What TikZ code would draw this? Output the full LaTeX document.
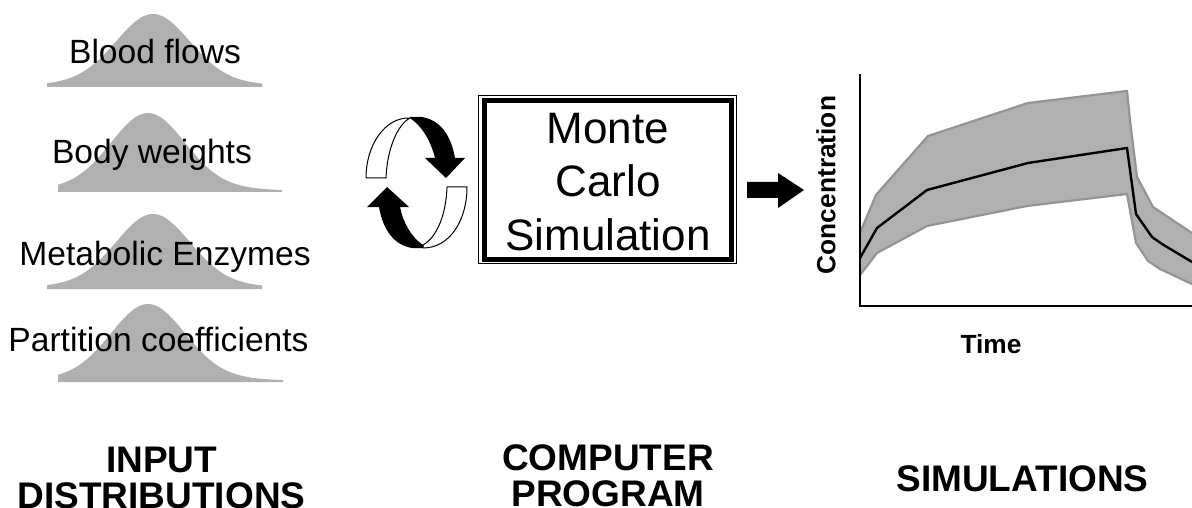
\documentclass[tikz,border=0pt]{standalone}
\usepackage{fontspec}
\setmainfont{Liberation Sans}
\tikzset{
 x=1pt,y=-1pt,
 bell/.style={fill=black!31,draw=none},
 lab/.style={font=\fontsize{33.6}{33.6}\selectfont,inner sep=0,anchor=base},
 ttl/.style={font=\fontsize{37}{36}\selectfont\bfseries,inner sep=0,align=center,anchor=center},
 axl/.style={font=\fontsize{26.3}{26.3}\selectfont\bfseries,inner sep=0},
 bandline/.style={draw=black!42,line width=2.2pt,line join=round}
}
\newcommand{\bell}[5]{% left, right, centre, peak, base
 \fill[bell] plot[domain=#1:#2,samples=70,smooth] (\x,{#5-(#5-#4)*(0.88*exp(-((\x-#3)/36)^2/2)+0.12*exp(-((\x-#3)/62)^2/2))}) -- (#2,#5+1) -- (#1,#5+1) -- cycle;}
\begin{document}
\begin{tikzpicture}
\useasboundingbox (0,0) rectangle (1192,508);
\bell{47}{262}{153}{14}{86}
\bell{58}{282}{148}{113}{191}
\bell{47}{262}{153}{214}{288}
\bell{58}{283}{148}{304}{381}
\node[lab] (b1) at (155,64) {Blood flows};
\node[lab] (b2) at (152,164) {Body weights};
\node[lab] (b3) at (165,265) {Metabolic Enzymes};
\node[lab] (b4) at (158.5,351.5) {Partition coefficients};
\node[ttl] (t1) at (161.5,477.5) {INPUT\\DISTRIBUTIONS};
\node[ttl] (t2) at (608,475.5) {COMPUTER\\PROGRAM};
\node[ttl,anchor=base] (t3) at (1022.5,491) {SIMULATIONS};
% box
\draw[line width=1pt] (478.5,95.5) rectangle (736.5,263.5);
\draw[line width=5pt] (484,100.5) rectangle (731.5,259.5);
\node[align=center,inner sep=0,font=\fontsize{44}{53.5}\selectfont] (mc) at (608,182) {Monte\\Carlo\\Simulation};
% cycle arrows
\fill[black] (410,117) -- (422,117) .. controls (440,120) and (451,135) .. (455,158) -- (465,158) -- (446,178) -- (425,158) -- (435,158) .. controls (431,142) and (423,127) .. (410,118) -- cycle;
\draw[fill=white,line width=1pt,line join=round] (366,178) .. controls (366,145) and (385,117) .. (410,118) .. controls (397,125) and (387,150) .. (386,178) -- cycle;
\fill[black] (423,248) -- (412,248) .. controls (394,245) and (383,230) .. (379,207) -- (367,207) -- (387,187) -- (409,207) -- (400,207) .. controls (403,222) and (411,237) .. (423,245) -- cycle;
\draw[fill=white,line width=1pt,line join=round] (467,187) .. controls (467,220) and (450,248) .. (423,248) -- (423,245) .. controls (437,237) and (446,215) .. (447,187) -- cycle;
% block arrow
\fill[black] (747,182) -- (778,182) -- (778,173) -- (804,190) -- (778,208) -- (778,198) -- (747,198) -- cycle;
% chart
\fill[black!31] (860,233) -- (876,195) -- (928,136) -- (1028,103) -- (1127,91) -- (1130,120) -- (1137,177) -- (1153,207) -- (1192,233) -- (1192,284) -- (1160,269) -- (1148,261) -- (1136,243) -- (1127,194) -- (1027,206) -- (927,226) -- (877,253) -- (860,275) -- cycle;
\draw[bandline] (860,233) -- (876,195) -- (928,136) -- (1028,103) -- (1127,91) -- (1130,120) -- (1137,177) -- (1153,207) -- (1192,233);
\draw[bandline] (1192,284) -- (1160,269) -- (1148,261) -- (1136,243) -- (1127,194) -- (1027,206) -- (927,226) -- (877,253) -- (860,275);
\draw[line width=2.4pt,line join=round] (860,258) -- (877,228) -- (927,190) -- (1028,163) -- (1127,148) -- (1136,214) -- (1152,237) -- (1162,244) -- (1192,262);
\draw[line width=2.4pt] (860,74) -- (860,306) -- (1192,306);
\node[axl,rotate=90] (yl) at (826,185) {Concentration};
\node[axl] (xl) at (991,344) {Time};
\end{tikzpicture}
\end{document}
